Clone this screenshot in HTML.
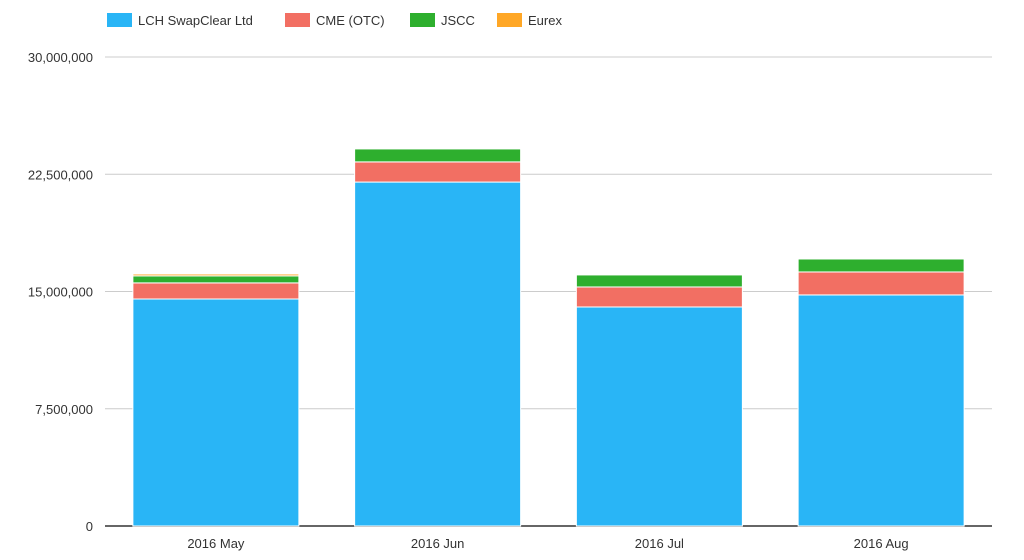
<!DOCTYPE html>
<html><head><meta charset="utf-8"><style>
body{margin:0;background:#fff;font-family:"Liberation Sans",sans-serif;}
svg text{font-family:"Liberation Sans",sans-serif;fill:#333;}
</style></head><body>
<svg id="c" width="1024" height="555"></svg>
<script>
const categories=["2016 May","2016 Jun","2016 Jul","2016 Aug"];
const seriesNames=["LCH SwapClear Ltd","CME (OTC)","JSCC","Eurex"];
const lch=[14520000,22000000,14010000,14780000];
const cme=[1030000,1290000,1280000,1470000];
const jscc=[450000,830000,770000,830000];
const eurex=[120000,0,0,0];
const ticks=[0,7500000,15000000,22500000,30000000];
const tickLabels=["0","7,500,000","15,000,000","22,500,000","30,000,000"];
const colors=["#29b5f6","#f26f63","#2eaf2e","#ffa726"];
const series=[lch,cme,jscc,eurex];
const svg=document.getElementById('c');const NS="http://www.w3.org/2000/svg";
function mk(t,a,p){const e=document.createElementNS(NS,t);for(const k in a)e.setAttribute(k,a[k]);(p||svg).appendChild(e);return e;}
const x0=105,x1=992,y0=526,y1=57,vmax=30000000;
const y=v=>y0-(v/vmax)*(y0-y1);
const band=(x1-x0)/categories.length,bw=166;
const xc=i=>x0+band*i+band/2;
ticks.forEach((t,i)=>{
 const l=mk('line',{x1:x0,x2:x1,y1:y(t),y2:y(t),stroke:i==0?'#333':'#ccc','stroke-width':i==0?1.5:1});
 
 
 const tx=mk('text',{x:93,y:y(t)+5,'text-anchor':'end','font-size':13});
 tx.textContent=tickLabels[i];
 
 
});
categories.forEach((c,i)=>{
 let acc=0;
 series.forEach((s,j)=>{
  if(s[i]<=0)return;
  const r=mk('rect',{x:xc(i)-bw/2,y:y(acc+s[i]),width:bw,height:y(acc)-y(acc+s[i]),fill:colors[j],stroke:'#fff','stroke-width':1});
  
  
  acc+=s[i];
 });
 const tx=mk('text',{x:xc(i),y:548,'text-anchor':'middle','font-size':13});
 tx.textContent=c;
 
 
});
const lx=[107,285,410,497];
seriesNames.forEach((n,j)=>{
 const g=mk('g',{});
 
 
 mk('rect',{x:lx[j],y:13,width:25,height:14,fill:colors[j]},g);
 const t=mk('text',{x:lx[j]+31,y:25,'font-size':13},g);t.textContent=n;
});
</script>
</body></html>
